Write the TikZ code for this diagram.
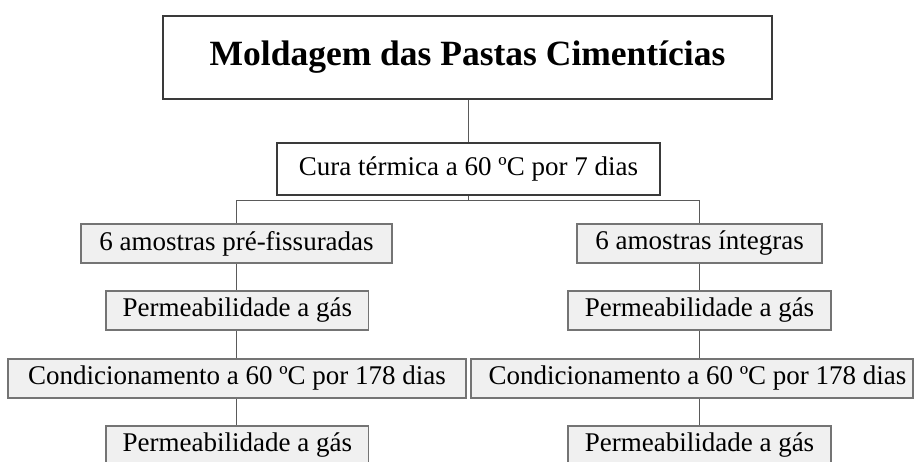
\documentclass[tikz,border=0pt]{standalone}
\usepackage{fontspec}
\setmainfont{Liberation Serif}
\definecolor{boxfill}{HTML}{F0F0F0}
\definecolor{boxline}{HTML}{747474}
\definecolor{darkline}{HTML}{3A3A3A}
\definecolor{connline}{HTML}{5A5A5A}
\tikzset{
  titlebox/.style={draw=darkline, line width=1.4pt, fill=white, inner sep=0pt,
    minimum height=83pt, font=\fontsize{35.5}{40}\selectfont\bfseries},
  curabox/.style={draw=darkline, line width=1.4pt, fill=white, inner sep=0pt,
    minimum height=52pt, font=\fontsize{27}{32}\selectfont},
  graybox/.style={draw=boxline, line width=1.6pt, fill=boxfill, inner sep=0pt,
    minimum height=39pt, font=\fontsize{27}{32}\selectfont},
  conn/.style={draw=connline, line width=1.4pt}
}
\begin{document}
\begin{tikzpicture}[x=1pt, y=-1pt]
\clip (0,0) rectangle (915,462);
\fill[white] (0,0) rectangle (915,462);
\node[titlebox, minimum width=609pt] (title) at (467.5,57.5) {Moldagem das Pastas Cimentícias};
\node[curabox, minimum width=383pt] (cura) at (468.5,169) {Cura térmica a 60 ºC por 7 dias};
% left column
\node[graybox, minimum width=311.5pt] (L1) at (236.5,243.5) {6 amostras pré-fissuradas};
\node[graybox, minimum width=262.7pt] (L2) at (237.3,310.5) {Permeabilidade a gás};
\node[graybox, minimum width=458pt] (L3) at (237,378.5) {Condicionamento a 60 ºC por 178 dias};
\node[graybox, minimum width=262.7pt] (L4) at (237.3,445.5) {Permeabilidade a gás};
% right column
\node[graybox, minimum width=245pt] (R1) at (699.5,243.5) {6 amostras íntegras};
\node[graybox, minimum width=263pt] (R2) at (699.5,310.5) {Permeabilidade a gás};
\node[graybox, minimum width=442pt] (R3) at (692,378.5) {\hspace*{11pt}Condicionamento a 60 ºC por 178 dias};
\node[graybox, minimum width=263pt] (R4) at (699.5,445.5) {Permeabilidade a gás};
% connectors
\coordinate (bar) at (468.5,200.5);
\draw[conn] (title.south -| cura.north) -- (cura.north);
\draw[conn] (cura.south) -- (bar);
\draw[conn] (L1.north) -- (L1.north |- bar) -- (R1.north |- bar) -- (R1.north);
\draw[conn] (L1.south) -- (L1.south |- L2.north);
\draw[conn] (L1.south |- L2.south) -- (L1.south |- L3.north);
\draw[conn] (L1.south |- L3.south) -- (L1.south |- L4.north);
\draw[conn] (R1.south) -- (R1.south |- R2.north);
\draw[conn] (R1.south |- R2.south) -- (R1.south |- R3.north);
\draw[conn] (R1.south |- R3.south) -- (R1.south |- R4.north);
\end{tikzpicture}
\end{document}
